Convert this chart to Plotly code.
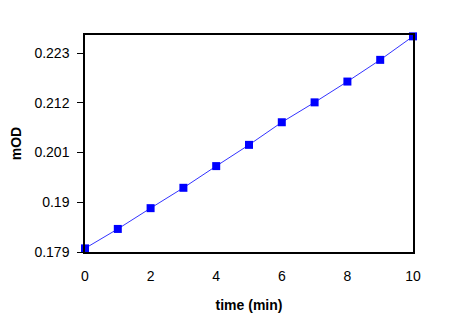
import plotly.graph_objects as go

time_min = [0, 1, 2, 3, 4, 5, 6, 7, 8, 9, 10]
mod_values = [0.1798, 0.1841, 0.1887, 0.1932, 0.1980, 0.2027, 0.2077, 0.2121, 0.2167, 0.2215, 0.2267]
y_ticks = [0.179, 0.19, 0.201, 0.212, 0.223]
y_tick_labels = ["0.179", "0.19", "0.201", "0.212", "0.223"]
x_ticks = [0, 2, 4, 6, 8, 10]

fig = go.Figure()
fig.add_trace(go.Scatter(
    x=time_min, y=mod_values, mode="lines+markers",
    line=dict(color="#3333ff", width=1),
    marker=dict(symbol="square", size=8, color="#0000ff"),
    cliponaxis=False, showlegend=False,
))

fig.update_layout(
    width=450, height=324,
    margin=dict(l=85, r=37, t=35, b=72),
    paper_bgcolor="white", plot_bgcolor="white",
    font=dict(family="Liberation Sans, Arial, sans-serif", size=14, color="black"),
    xaxis=dict(
        range=[0, 10], tickvals=x_ticks, ticks="", showgrid=False, zeroline=False,
        showline=True, linecolor="black", linewidth=1.5, mirror=True,
        ticklabelstandoff=10,
        title=dict(text="<b>time (min)</b>", standoff=18, font=dict(size=14)),
        tickfont=dict(size=14),
    ),
    yaxis=dict(
        range=[0.179, 0.227], tickvals=y_ticks, ticktext=y_tick_labels,
        ticks="outside", ticklen=6, tickcolor="black", showgrid=False, zeroline=False,
        showline=True, linecolor="black", linewidth=1.5, mirror=True,
        ticklabelstandoff=5,
        title=dict(text="<b>mOD</b>", standoff=10, font=dict(size=14)),
        tickfont=dict(size=14),
    ),
)

fig.write_html("out.html")
